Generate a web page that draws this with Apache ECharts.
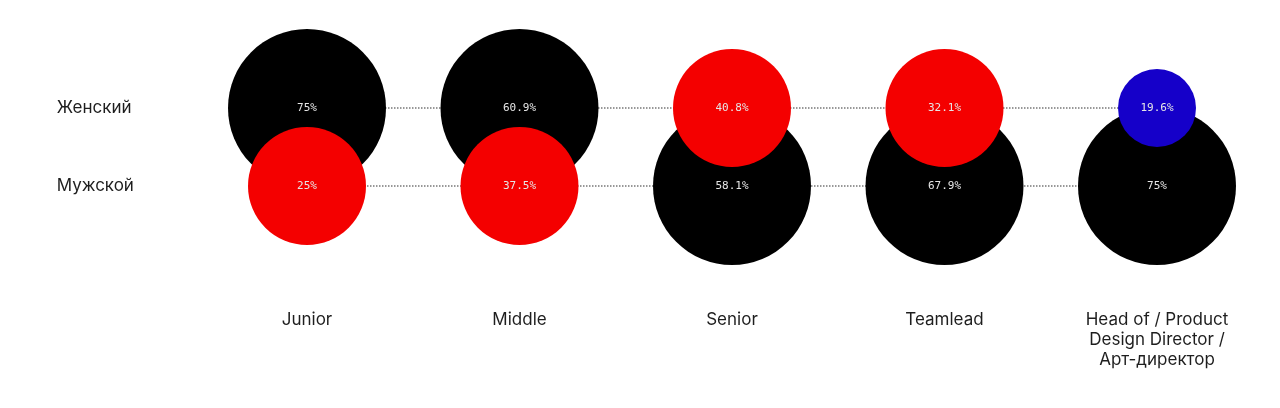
<!DOCTYPE html>
<html>
<head>
<meta charset="utf-8">
<script src="https://cdn.jsdelivr.net/npm/echarts@6/dist/echarts.min.js"></script>
<style>
  html, body { margin: 0; padding: 0; background: #fff; }
  #main { width: 1280px; height: 408px; }
</style>
</head>
<body>
<div id="main"></div>
<script>
/* данные */
let levels = ['Junior', 'Middle', 'Senior', 'Teamlead', 'Head of / Product\nDesign Director /\nАрт-директор'];
let genders = ['Мужской', 'Женский'];
let female = [75, 60.9, 40.8, 32.1, 19.6];
let male = [25, 37.5, 58.1, 67.9, 75];

/* точки для пузырей: большие рисуем первыми, чтобы маленькие были сверху */
let points = [];
for (let i = 0; i < levels.length; i++) {
  points.push([i, 1, female[i]]);
  points.push([i, 0, male[i]]);
}
points.sort((a, b) => b[2] - a[2]);

let chart = echarts.init(document.getElementById('main'));
let option = {
  backgroundColor: '#fff',
  animation: false,
  grid: { left: 200.75, right: 16.75, top: 69, height: 156 },
  xAxis: {
    type: 'category',
    data: levels,
    axisLine: { show: false },
    axisTick: { show: false },
    axisLabel: {
      margin: 85,
      fontFamily: 'Inter',
      fontSize: 17,
      lineHeight: 20,
      color: '#1e1e1e',
      align: 'center'
    }
  },
  yAxis: {
    type: 'category',
    data: genders,
    axisLine: { show: false },
    axisTick: { show: false },
    axisLabel: {
      margin: 144,
      align: 'left',
      fontFamily: 'Inter',
      fontSize: 17,
      color: '#1e1e1e'
    }
  },
  // размер и цвет пузыря по значению
  visualMap: {
    show: false,
    type: 'piecewise',
    seriesIndex: 2,
    dimension: 2,
    pieces: [
      { min: 50, color: '#000000', symbolSize: 158 },
      { min: 20, max: 50, color: '#f40000', symbolSize: 118 },
      { max: 20, color: '#1500c9', symbolSize: 78 }
    ]
  },
  series: [
    {
      type: 'line',
      data: female.map((v, i) => [i, 1]),
      symbol: 'none',
      z: 1,
      lineStyle: { color: '#777', width: 1.5, type: 'dotted' }
    },
    {
      type: 'line',
      data: male.map((v, i) => [i, 0]),
      symbol: 'none',
      z: 1,
      lineStyle: { color: '#777', width: 1.5, type: 'dotted' }
    },
    {
      type: 'scatter',
      z: 3,
      data: points,
      itemStyle: { opacity: 1 },
      label: {
        show: true,
        position: 'inside',
        fontFamily: 'DejaVu Sans Mono',
        fontSize: 11,
        color: '#e6e6e6',
        formatter: p => p.value[2] + '%'
      }
    }
  ]
};
chart.setOption(option);
</script>
</body>
</html>
